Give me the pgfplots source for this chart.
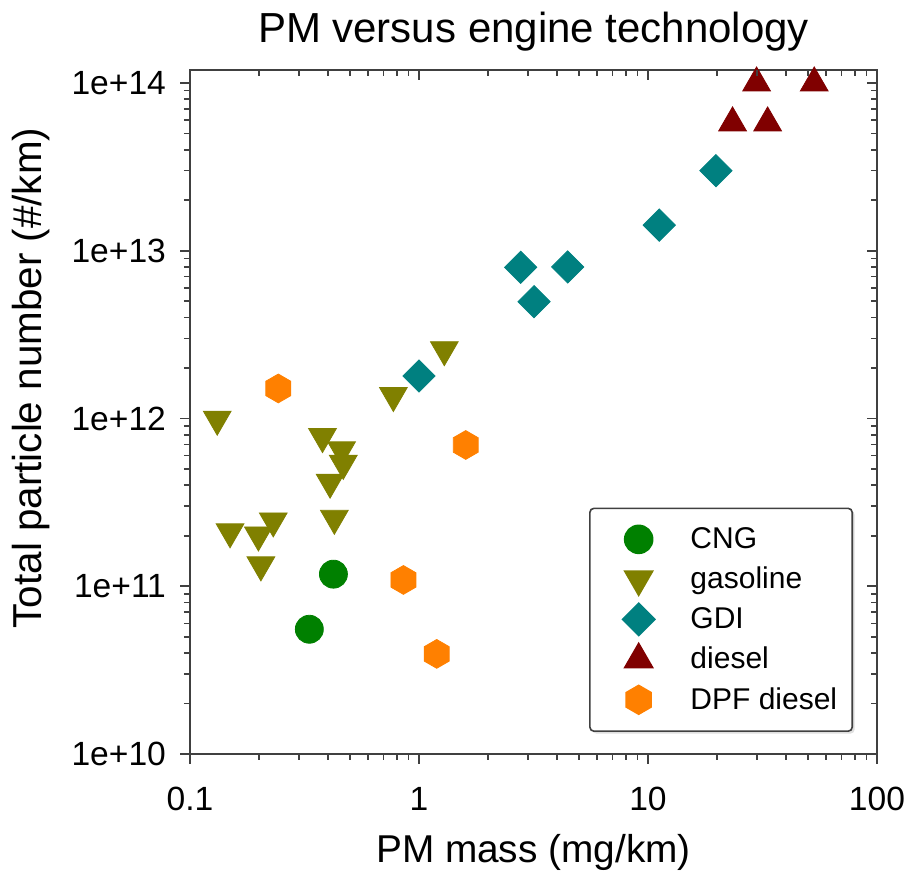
\documentclass[border=0pt]{standalone}
\usepackage{fontspec}
\setmainfont{Liberation Sans}
\usepackage{pgfplots}
\pgfplotsset{compat=1.18}
\usetikzlibrary{shadows}
\definecolor{cng}{HTML}{008000}
\definecolor{gas}{HTML}{808000}
\definecolor{gdi}{HTML}{008080}
\definecolor{dsl}{HTML}{800000}
\definecolor{dpf}{HTML}{FF8000}
\definecolor{axgray}{HTML}{404040}
\pgfdeclareplotmark{hexagon*}{%
  \pgfpathmoveto{\pgfqpointpolar{90}{\pgfplotmarksize}}%
  \pgfpathlineto{\pgfqpointpolar{150}{\pgfplotmarksize}}%
  \pgfpathlineto{\pgfqpointpolar{210}{\pgfplotmarksize}}%
  \pgfpathlineto{\pgfqpointpolar{270}{\pgfplotmarksize}}%
  \pgfpathlineto{\pgfqpointpolar{330}{\pgfplotmarksize}}%
  \pgfpathlineto{\pgfqpointpolar{30}{\pgfplotmarksize}}%
  \pgfpathclose
  \pgfusepathqfillstroke
}
\begin{document}
\begin{tikzpicture}
\begin{axis}[name=ax,
  scale only axis, width=343.5pt, height=342pt,
  xmode=log, ymode=log,
  xmin=0.1, xmax=100, ymin=1e10, ymax=1.195e14,
  xtick={0.1,1,10,100}, ytick={1e10,1e11,1e12,1e13,1e14},
  minor x tick num=8, minor y tick num=8,
  major tick length=5pt, minor tick length=3pt,
  every tick/.style={axgray, line width=0.8pt},
  axis line style={axgray, line width=1pt},
  tick align=outside, xtick pos=bottom, ytick pos=left,
  xticklabels={{0.1},{1},{10},{100}},
  yticklabels={{1e+10},{1e+11},{1e+12},{1e+13},{1e+14}},
  tick label style={font=\fontsize{16.8}{19}\selectfont},
  xticklabel style={yshift=-8pt},
  yticklabel style={xshift=-3.5pt},
  xlabel style={font=\fontsize{19.4}{22}\selectfont, yshift=-5pt},
  ylabel style={font=\fontsize{20.2}{24}\selectfont, yshift=4pt, xshift=17pt},
  title style={font=\fontsize{21}{25}\selectfont, yshift=0pt},
  title={PM versus engine technology},
  xlabel={PM mass (mg/km)},
  ylabel={Total particle number (\#/km)},
  legend cell align=left,
  legend image code/.code={\path (0pt,0pt) (42pt,0pt); \draw[#1] plot coordinates {(18.5pt,0pt)};},
  legend style={at={(1,0)}, anchor=south east, xshift=-12pt, yshift=11pt,
    font=\fontsize{15}{18}\selectfont, draw=axgray, line width=0.8pt,
    rounded corners=2pt, inner xsep=5.5pt, inner ysep=7.5pt, row sep=3.8pt,
    fill=white, drop shadow={shadow xshift=1.2pt, shadow yshift=-1.2pt, fill=gray!50},
    /tikz/every odd column/.append style={column sep=0pt}},
]
\addplot[only marks, mark=*, mark size=7pt, color=cng] coordinates {
(0.423,1.18e11) (0.332,5.54e10)};
\addlegendentry{CNG}
\addplot[only marks, mark=triangle*, mark size=8pt, color=gas, mark options={rotate=180}] coordinates {
(0.1315,9.9e11) (0.773,1.37e12) (1.29,2.57e12) (0.379,7.8e11) (0.459,6.5e11)
(0.467,5.4e11) (0.409,4.17e11) (0.427,2.54e11) (0.1496,2.11e11) (0.199,2.02e11)
(0.231,2.45e11) (0.204,1.34e11)};
\addlegendentry{gasoline}
\addplot[only marks, mark=square*, mark size=5.7pt, color=gdi, mark options={rotate=45}] coordinates {
(1.0,1.79e12) (2.78,7.97e12) (4.46,8.0e12) (3.18,4.97e12) (11.2,1.42e13) (19.8,3.0e13)};
\addlegendentry{GDI}
\addplot[only marks, mark=triangle*, mark size=8pt, color=dsl] coordinates {
(29.8,1e14) (53.2,1e14) (23.4,5.78e13) (33.3,5.78e13)};
\addlegendentry{diesel}
\addplot[only marks, mark=hexagon*, mark size=7.2pt, color=dpf] coordinates {
(0.243,1.51e12) (1.60,6.95e11) (0.855,1.09e11) (1.195,3.95e10)};
\addlegendentry{DPF diesel}
\end{axis}
\begin{axis}[
  scale only axis, width=343.5pt, height=342pt,
  xmode=log, ymode=log,
  xmin=0.1, xmax=100, ymin=1e10, ymax=1.195e14,
  xtick={0.1,1,10,100}, ytick={1e10,1e11,1e12,1e13,1e14},
  minor x tick num=8, minor y tick num=8,
  major tick length=5pt, minor tick length=3pt,
  every tick/.style={axgray, line width=0.8pt},
  tick align=inside, xtick pos=top, ytick pos=right,
  xticklabels={}, yticklabels={}, axis line style={draw=none}]
\end{axis}
\pgfresetboundingbox
\path ([shift={(-95pt,-61pt)}]ax.south west) rectangle ([shift={(16pt,35pt)}]ax.north east);
\end{tikzpicture}
\end{document}
